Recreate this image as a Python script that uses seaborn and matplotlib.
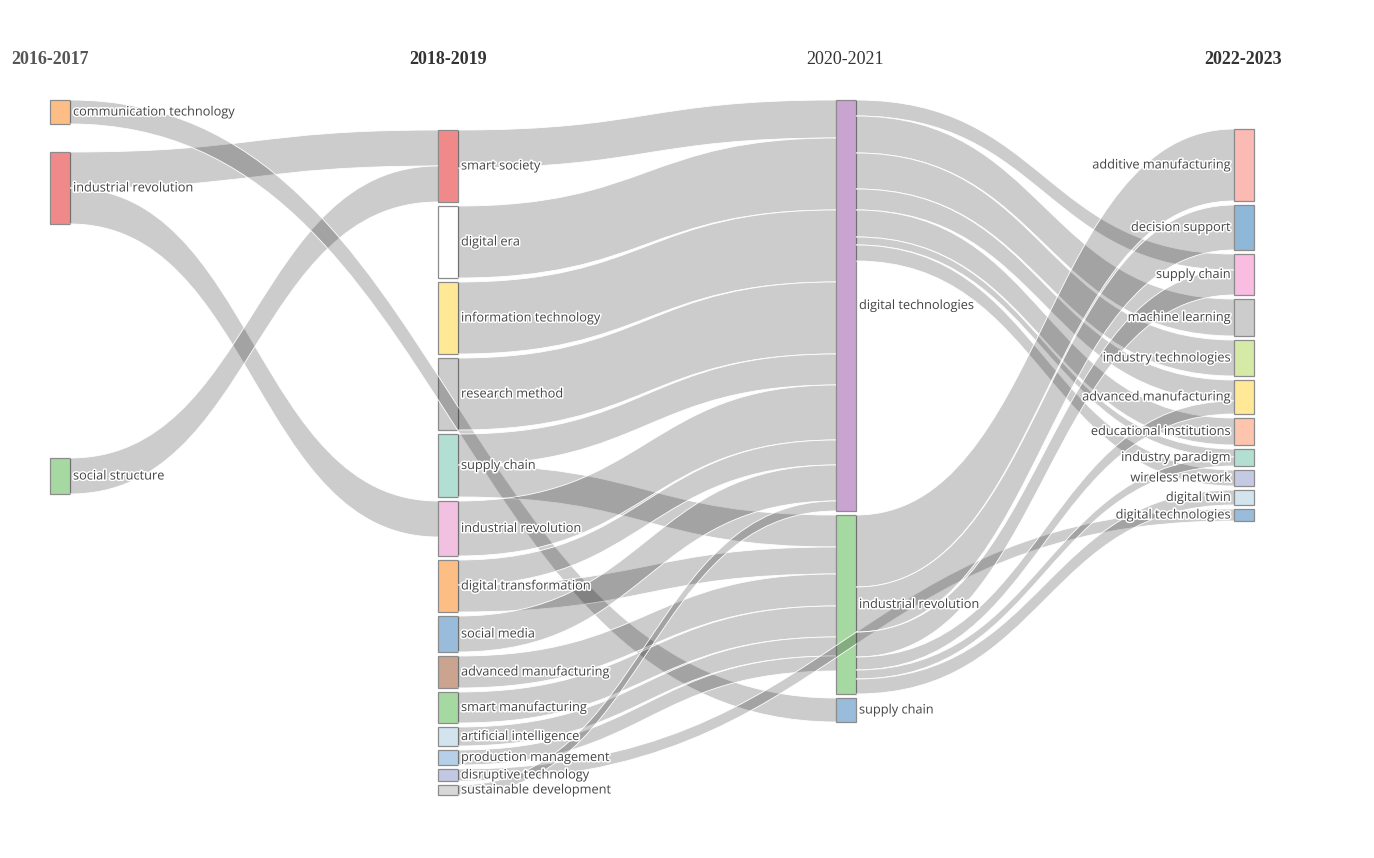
import matplotlib
matplotlib.use("Agg")
import matplotlib.pyplot as plt
import matplotlib.patheffects as pe
from matplotlib.path import Path
from matplotlib.patches import PathPatch, Rectangle
import seaborn as sns

# step 1 the data: periods, keywords per period and the flows between them
periods = ["2016-2017", "2018-2019", "2020-2021", "2022-2023"]

nodes_2016 = ["communication technology", "industrial revolution", "social structure"]
nodes_2018 = ["smart society", "digital era", "information technology", "research method",
              "supply chain", "industrial revolution", "digital transformation", "social media",
              "advanced manufacturing", "smart manufacturing", "artificial intelligence",
              "production management", "disruptive technology", "sustainable development"]
nodes_2020 = ["digital technologies", "industrial revolution", "supply chain"]
nodes_2022 = ["additive manufacturing", "decision support", "supply chain", "machine learning",
              "industry technologies", "advanced manufacturing", "educational institutions",
              "industry paradigm", "wireless network", "digital twin", "digital technologies"]

# links as (column, keyword)
link_source = [
    (0, "industrial revolution"), (0, "industrial revolution"), (0, "social structure"),
    (0, "communication technology"),
    (1, "smart society"), (1, "digital era"), (1, "information technology"), (1, "research method"),
    (1, "supply chain"), (1, "supply chain"), (1, "industrial revolution"),
    (1, "digital transformation"), (1, "digital transformation"), (1, "social media"),
    (1, "advanced manufacturing"), (1, "smart manufacturing"), (1, "artificial intelligence"),
    (1, "production management"), (1, "disruptive technology"), (1, "sustainable development"),
    (2, "digital technologies"), (2, "digital technologies"), (2, "digital technologies"),
    (2, "digital technologies"), (2, "digital technologies"), (2, "digital technologies"),
    (2, "digital technologies"),
    (2, "industrial revolution"), (2, "industrial revolution"), (2, "industrial revolution"),
    (2, "industrial revolution"), (2, "industrial revolution"), (2, "industrial revolution"),
]
link_target = [
    (1, "smart society"), (1, "industrial revolution"), (1, "smart society"),
    (2, "supply chain"),
    (2, "digital technologies"), (2, "digital technologies"), (2, "digital technologies"),
    (2, "digital technologies"),
    (2, "digital technologies"), (2, "industrial revolution"), (2, "digital technologies"),
    (2, "digital technologies"), (2, "industrial revolution"), (2, "digital technologies"),
    (2, "industrial revolution"), (2, "industrial revolution"), (2, "industrial revolution"),
    (2, "industrial revolution"), (3, "digital technologies"), (2, "digital technologies"),
    (3, "supply chain"), (3, "machine learning"), (3, "industry technologies"),
    (3, "advanced manufacturing"), (3, "educational institutions"), (3, "industry paradigm"),
    (3, "wireless network"),
    (3, "additive manufacturing"), (3, "decision support"), (3, "supply chain"),
    (3, "advanced manufacturing"), (3, "industry paradigm"), (3, "digital twin"),
]
link_value = [36, 36, 36, 24,
              38, 72, 72, 72, 31, 32, 55, 25, 27, 36, 32, 31, 19, 15, 12, 10,
              16, 37, 36, 21, 27, 8, 16,
              72, 45, 25, 13, 9, 15]

# step 2 styling and layout (pixels)
node_colors = {
    0: ["#fdbe85", "#f08a8a", "#a6d8a1"],
    1: ["#f08a8a", "#ffffff", "#ffe996", "#cccccc", "#b2dfd2", "#f2c0e0", "#fdbe85",
        "#99bcda", "#caa48e", "#a6d8a1", "#d2e4ee", "#b5d0e8", "#c2c8e4", "#d8d8d8"],
    2: ["#c9a4d0", "#a6d8a1", "#99bcda"],
    3: ["#fbbab4", "#8eb7d8", "#f8bde0", "#cccccc", "#d6eaa8", "#ffe996", "#fdc4ae",
        "#b2dfd2", "#c4cae4", "#d2e4ee", "#99bcda"],
}
col_x = [50, 438, 836, 1234]
col_top = [100, 130, 100, 129]
node_w = 20
pad = 4
extra_gap = {(0, "industrial revolution"): 24, (0, "social structure"): 230}
title_shift = [-10, 0, -1, -1]
title_weight = ["bold", "bold", "normal", "bold"]
title_color = ["#555555", "#333333", "#333333", "#333333"]

columns = [nodes_2016, nodes_2018, nodes_2020, nodes_2022]

# step 3 node sizes = max(inflow, outflow), stacked per column
size_in, size_out = {}, {}
for s, t, v in zip(link_source, link_target, link_value):
    size_out[s] = size_out.get(s, 0) + v
    size_in[t] = size_in.get(t, 0) + v

node_y = {}
node_h = {}
for c, names in enumerate(columns):
    y = col_top[c]
    for name in names:
        key = (c, name)
        y += extra_gap.get(key, 0)
        h = max(size_in.get(key, 0), size_out.get(key, 0))
        node_y[key] = y
        node_h[key] = h
        y += h + pad

# link offsets at source (ordered by target y) and target (ordered by source y)
order = list(range(len(link_value)))
src_off, tgt_off = {}, {}
src_pos, tgt_pos = {}, {}
for i in sorted(order, key=lambda i: node_y[link_target[i]]):
    s = link_source[i]
    src_pos[i] = node_y[s] + src_off.get(s, 0)
    src_off[s] = src_off.get(s, 0) + link_value[i]
for i in sorted(order, key=lambda i: node_y[link_source[i]]):
    t = link_target[i]
    tgt_pos[i] = node_y[t] + tgt_off.get(t, 0)
    tgt_off[t] = tgt_off.get(t, 0) + link_value[i]

# step 4 draw
sns.set_theme(style="white")
plt.rcParams["font.family"] = ["Open Sans", "DejaVu Sans"]

fig = plt.figure(figsize=(13.74, 8.58), dpi=100)
ax = fig.add_axes([0, 0, 1, 1])
ax.set_xlim(0, 1374)
ax.set_ylim(858, 0)
ax.axis("off")

for c, names in enumerate(columns):
    for k, name in enumerate(names):
        key = (c, name)
        ax.add_patch(Rectangle((col_x[c], node_y[key]), node_w, node_h[key],
                               facecolor=node_colors[c][k], edgecolor="#8c8c8c",
                               lw=0.9, zorder=2))


def curve(x0, y0, x1, y1):
    xm = (x0 + x1) / 2
    return [(x0, y0), (xm, y0), (xm, y1), (x1, y1)]


for i in order:
    s, t, v = link_source[i], link_target[i], link_value[i]
    x0 = col_x[s[0]] + node_w
    x1 = col_x[t[0]]
    y0, y1 = src_pos[i], tgt_pos[i]
    top = curve(x0, y0, x1, y1)
    bot = curve(x1, y1 + v, x0, y0 + v)
    verts = top + bot + [top[0]]
    codes = ([Path.MOVETO, Path.CURVE4, Path.CURVE4, Path.CURVE4,
              Path.LINETO, Path.CURVE4, Path.CURVE4, Path.CURVE4, Path.CLOSEPOLY])
    ax.add_patch(PathPatch(Path(verts, codes), facecolor=(0, 0, 0, 0.2),
                           edgecolor="none", zorder=3))
    for edge in (top, bot):
        ax.add_patch(PathPatch(Path(edge, [Path.MOVETO, Path.CURVE4, Path.CURVE4, Path.CURVE4]),
                               facecolor="none", edgecolor="white", lw=0.6, zorder=3))

halo = [pe.withStroke(linewidth=2.2, foreground="white")]
for c, names in enumerate(columns):
    for name in names:
        key = (c, name)
        yc = node_y[key] + node_h[key] / 2
        if c < 3:
            ax.text(col_x[c] + node_w + 3, yc, name, ha="left", va="center",
                    fontsize=9.2, color="#444444", path_effects=halo, zorder=5)
        else:
            ax.text(col_x[c] - 3, yc, name, ha="right", va="center",
                    fontsize=9.2, color="#444444", path_effects=halo, zorder=5)

for c, p in enumerate(periods):
    ax.text(col_x[c] + node_w / 2 + title_shift[c], 60, p, ha="center", va="center",
            fontsize=13, fontweight=title_weight[c], color=title_color[c],
            family=["Liberation Serif", "DejaVu Serif"], zorder=5)

fig.savefig("out.png", dpi=100)
